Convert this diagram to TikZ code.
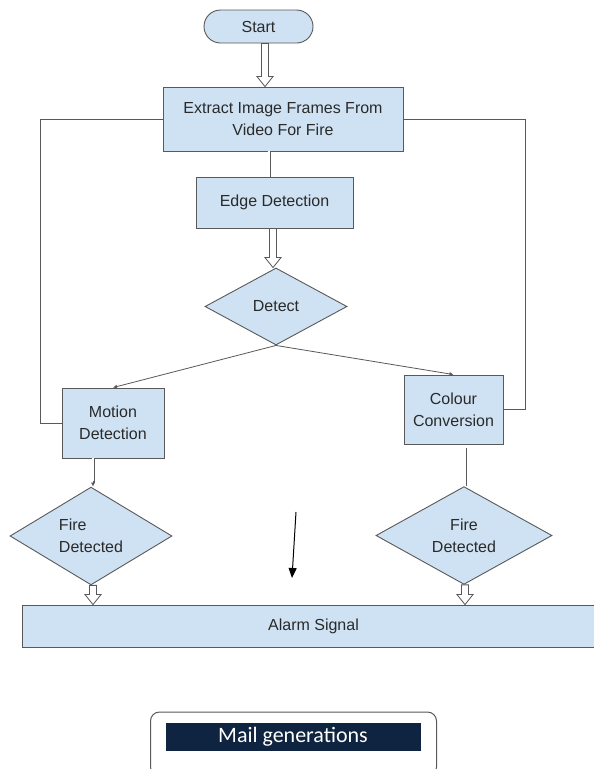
\documentclass[tikz,border=0pt]{standalone}
\usepackage{fontspec}
\setmainfont{Liberation Sans}
\newfontfamily\calfont{Carlito}
\usetikzlibrary{shapes.geometric,arrows.meta,calc}
\definecolor{boxblue}{HTML}{CFE2F3}
\definecolor{edgegray}{HTML}{595959}
\definecolor{txtgray}{HTML}{2A2A2A}
\definecolor{navy}{HTML}{0F2440}
\newcommand\harrow[3]{\draw[harrow] let \p1=(#2), \p2=(#3) in (#1pt-3.5pt,\y1) -- (#1pt-3.5pt,\y2+10pt) -- (#1pt-8pt,\y2+10pt) -- (#1pt,\y2) -- (#1pt+8pt,\y2+10pt) -- (#1pt+3.5pt,\y2+10pt) -- (#1pt+3.5pt,\y1) -- cycle;}
\begin{document}
\begin{tikzpicture}[x=1pt,y=-1pt,
 box/.style={draw=edgegray, fill=boxblue, line width=0.9pt, text=txtgray, font=\fontsize{16}{22}\selectfont, align=center, inner sep=0pt},
 dia/.style={box, diamond},
 harrow/.style={draw=edgegray, fill=white, line width=0.8pt},
 thinline/.style={draw=edgegray, line width=0.8pt},
 dline/.style={draw=edgegray, line width=0.9pt, double=white, double distance=1.2pt},
 tip/.style={-{Latex[length=4pt,width=4pt]}}]
\useasboundingbox (0,0) rectangle (594,769);
\clip (0,0) rectangle (594,769);
\fill[white] (0,0) rectangle (594,769);

\node[box, rounded corners=16.5pt, minimum width=109pt, minimum height=33pt] (start) at (258.5,26.5) {Start};
\node[box, minimum width=240pt, minimum height=64pt] (extract) at (283,119) {Extract Image Frames From\\Video For Fire};
\node[box, minimum width=157pt, minimum height=51pt] (edge) at (274.5,202.5) {Edge Detection};
\node[dia, minimum width=142pt, minimum height=77pt] (detect) at (276,306.5) {Detect};
\node[box, minimum width=102pt, minimum height=70pt] (motion) at (113,423) {Motion\\Detection};
\node[box, minimum width=99pt, minimum height=69pt] (colour) at (453.5,409.5) {Colour\\Conversion};
\node[dia, minimum width=162pt, minimum height=88pt, align=left] (fireL) at (91,536) {Fire\\Detected};
\node[dia, minimum width=176pt, minimum height=85pt] (fireR) at (464,535.5) {Fire\\Detected};
\node[box, minimum width=583pt, minimum height=42pt] (alarm) at (313.5,626) {Alarm Signal};

\node[draw=edgegray, rounded corners=9pt, line width=1pt, minimum width=286pt, minimum height=64pt, inner sep=0pt] (mailbox) at (293.5,744) {};
\node[fill=navy, text=white, minimum width=255pt, minimum height=28pt, inner sep=0pt, font=\calfont\fontsize{22}{24}\selectfont] (mail) at (293,736.5) {Mail generations};

% hollow arrows
\harrow{265}{start.south}{extract.north}
\harrow{273}{edge.south}{detect.north}
\harrow{93}{fireL.south}{alarm.north}
\harrow{465}{fireR.south}{alarm.north}

% thin double lines
\coordinate (xe) at (269,0);
\coordinate (xm) at (93,0);
\coordinate (xc) at (465,0);
\draw[dline] (extract.south -| xe) -- (edge.north -| xe);
\draw[dline] (motion.south -| xm) -- ($(fireL.north -| xm)+(0,-4)$);
\draw[thinline, tip] ($(fireL.north -| xm)+(0,-6)$) -- (fireL.north -| xm);
\draw[dline] ($(colour.south -| xc)+(0,4)$) -- (fireR.north -| xc);

% branches
\draw[thinline, tip] (detect.south) -- (motion.north);
\draw[thinline, tip] (detect.south) -- (colour.north);

% feedback lines
\coordinate (lx) at (40,0);
\coordinate (rx) at (525,0);
\draw[thinline] (extract.west) -- (extract.west -| lx) |- (motion.west);
\draw[thinline] (extract.east) -- (extract.east -| rx) |- (colour.east);

% stray arrow
\coordinate (s1) at (296,512);
\coordinate (s2) at (292,578);
\draw[line width=1pt, -{Triangle[length=10pt,width=8pt]}] (s1) -- (s2);
\end{tikzpicture}
\end{document}
